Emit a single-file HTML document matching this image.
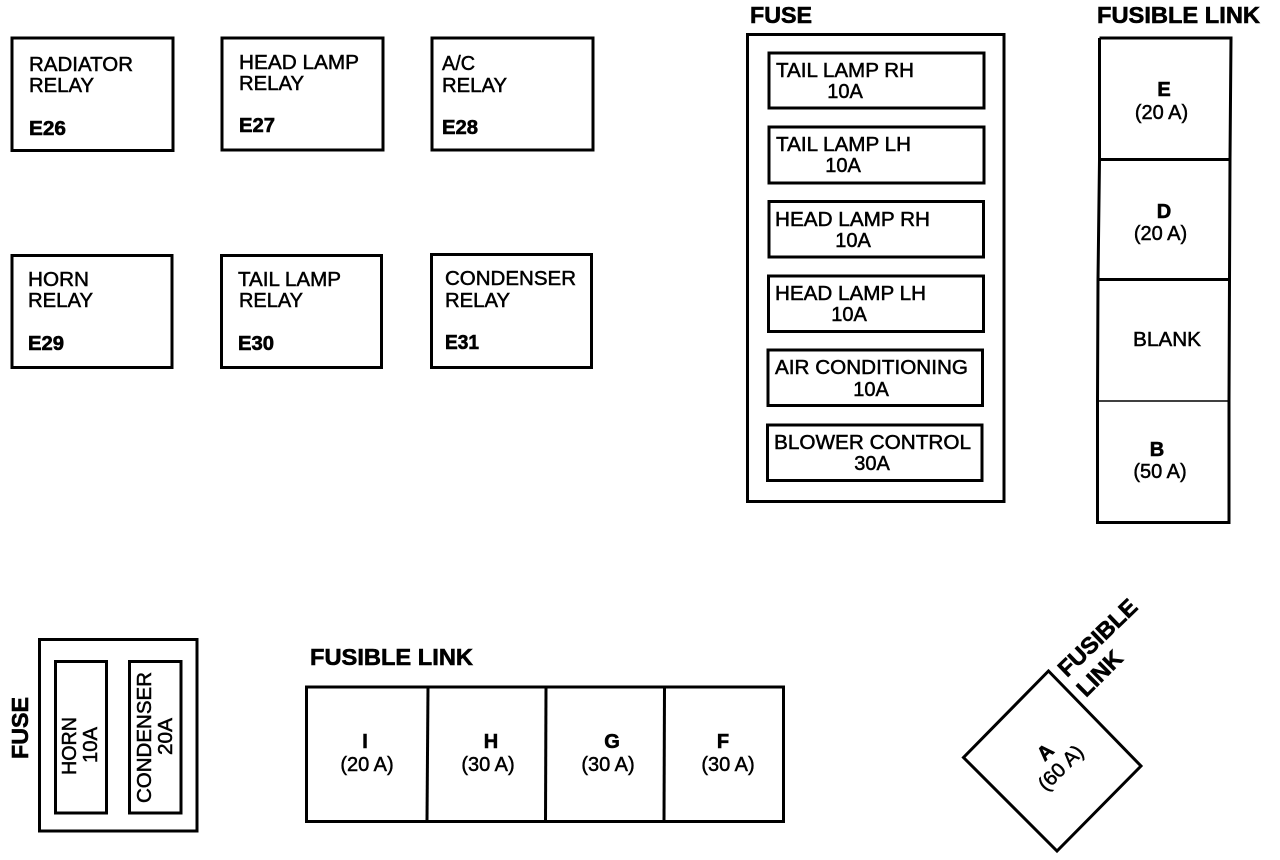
<!DOCTYPE html>
<html><head><meta charset="utf-8">
<style>
html,body{margin:0;padding:0;background:#fff;width:1280px;height:860px;overflow:hidden}
svg{display:block}
text{font-family:"Liberation Sans",sans-serif;fill:#000;font-size:20px;stroke:#000;stroke-width:.5px}
.b{font-weight:bold;stroke-width:.6px}
.h{font-weight:bold;font-size:23px;stroke-width:.6px}
.c{text-anchor:middle}
rect,polygon,line,polyline{fill:none;stroke:#000}
</style></head><body>
<svg width="1280" height="860" viewBox="0 0 1280 860" xmlns="http://www.w3.org/2000/svg">
<rect width="1280" height="860" style="fill:#fff;stroke:none"/>
<g style="stroke-width:3px">
<rect x="12" y="38" width="161" height="112.5"/>
<rect x="222" y="38" width="161" height="112"/>
<rect x="432" y="38" width="161" height="112"/>
<rect x="12" y="255.500" width="160" height="112"/>
<rect x="221.500" y="255.500" width="160" height="112"/>
<rect x="431.500" y="254.500" width="160" height="113"/>
<rect x="747.500" y="34.500" width="256.500" height="467"/>
<rect x="769" y="53" width="215" height="55"/>
<rect x="769" y="127" width="215" height="56"/>
<rect x="769" y="201.500" width="214.500" height="55.500"/>
<rect x="768.500" y="276" width="215" height="55.500"/>
<rect x="768" y="350" width="214.500" height="55.500"/>
<rect x="767.500" y="425" width="214.500" height="55.500"/>
<rect x="39.500" y="639.500" width="157.500" height="191.500"/>
<rect x="55.500" y="661.500" width="51" height="151.500"/>
<rect x="129.500" y="661.500" width="51.500" height="151.500"/>
<rect x="306.500" y="687" width="477" height="134.500"/>
<line x1="428" y1="687" x2="427" y2="821"/>
<line x1="546" y1="687" x2="545.500" y2="821"/>
<line x1="664.500" y1="687" x2="664" y2="821"/>
<polygon points="1048.500,671 1141,766 1057,851 963.500,757.500"/>
<polyline points="1099.500,38 1231,38 1230,160 1229.500,280 1229,400 1229,522.500 1097.500,522.500 1097.500,400 1098,280 1099.500,160 1099.500,38"/>
<line x1="1099.500" y1="159.500" x2="1230" y2="159.500"/>
<line x1="1098" y1="279.500" x2="1229.500" y2="279.500"/>
</g>
<line x1="1098" y1="401" x2="1229" y2="401" style="stroke-width:1.5px"/>

<text x="29" y="71" textLength="104" lengthAdjust="spacingAndGlyphs">RADIATOR</text>
<text x="29" y="92" textLength="65" lengthAdjust="spacingAndGlyphs">RELAY</text>
<text x="29" y="135" class="b" textLength="37" lengthAdjust="spacingAndGlyphs">E26</text>
<text x="239" y="69" textLength="120" lengthAdjust="spacingAndGlyphs">HEAD LAMP</text>
<text x="239" y="90" textLength="65" lengthAdjust="spacingAndGlyphs">RELAY</text>
<text x="239" y="132" class="b" textLength="36" lengthAdjust="spacingAndGlyphs">E27</text>
<text x="442" y="70" textLength="33" lengthAdjust="spacingAndGlyphs">A/C</text>
<text x="442" y="92" textLength="65" lengthAdjust="spacingAndGlyphs">RELAY</text>
<text x="442" y="134" class="b" textLength="36" lengthAdjust="spacingAndGlyphs">E28</text>
<text x="28" y="286" textLength="61" lengthAdjust="spacingAndGlyphs">HORN</text>
<text x="28" y="307" textLength="65" lengthAdjust="spacingAndGlyphs">RELAY</text>
<text x="28" y="350" class="b" textLength="36" lengthAdjust="spacingAndGlyphs">E29</text>
<text x="238" y="286" textLength="103" lengthAdjust="spacingAndGlyphs">TAIL LAMP</text>
<text x="239" y="307" textLength="64" lengthAdjust="spacingAndGlyphs">RELAY</text>
<text x="238" y="350" class="b" textLength="36" lengthAdjust="spacingAndGlyphs">E30</text>
<text x="445" y="285" textLength="131" lengthAdjust="spacingAndGlyphs">CONDENSER</text>
<text x="445" y="307" textLength="65" lengthAdjust="spacingAndGlyphs">RELAY</text>
<text x="445" y="349" class="b" textLength="34" lengthAdjust="spacingAndGlyphs">E31</text>

<text x="750" y="23" class="h" textLength="62" lengthAdjust="spacingAndGlyphs">FUSE</text>
<text x="1097" y="23" class="h" textLength="163" lengthAdjust="spacingAndGlyphs">FUSIBLE LINK</text>
<text x="776" y="77" textLength="138" lengthAdjust="spacingAndGlyphs">TAIL LAMP RH</text>
<text x="845" y="98" class="c">10A</text>
<text x="776" y="151" textLength="135" lengthAdjust="spacingAndGlyphs">TAIL LAMP LH</text>
<text x="843" y="172" class="c">10A</text>
<text x="775" y="226" textLength="155" lengthAdjust="spacingAndGlyphs">HEAD LAMP RH</text>
<text x="853" y="247" class="c">10A</text>
<text x="775" y="300" textLength="151" lengthAdjust="spacingAndGlyphs">HEAD LAMP LH</text>
<text x="849" y="321" class="c">10A</text>
<text x="775" y="374" textLength="193" lengthAdjust="spacingAndGlyphs">AIR CONDITIONING</text>
<text x="871" y="396" class="c">10A</text>
<text x="774" y="449" textLength="197" lengthAdjust="spacingAndGlyphs">BLOWER CONTROL</text>
<text x="872" y="470" class="c">30A</text>

<text x="1164" y="96" class="b c">E</text>
<text x="1161.500" y="119" class="c">(20 A)</text>
<text x="1164" y="218" class="b c">D</text>
<text x="1160.500" y="240" class="c">(20 A)</text>
<text x="1167" y="346" class="c" textLength="68" lengthAdjust="spacingAndGlyphs">BLANK</text>
<text x="1157" y="456" class="b c">B</text>
<text x="1160" y="478" class="c">(50 A)</text>

<text x="310" y="665" class="h" textLength="163" lengthAdjust="spacingAndGlyphs">FUSIBLE LINK</text>
<text x="365" y="748" class="b c">I</text>
<text x="367" y="771" class="c">(20 A)</text>
<text x="491" y="748" class="b c">H</text>
<text x="488" y="771" class="c">(30 A)</text>
<text x="612" y="748" class="b c">G</text>
<text x="608" y="771" class="c">(30 A)</text>
<text x="723" y="748" class="b c">F</text>
<text x="728" y="771" class="c">(30 A)</text>

<text transform="translate(28,759) rotate(-90)" class="h" textLength="62" lengthAdjust="spacingAndGlyphs">FUSE</text>
<text transform="translate(76,775) rotate(-90)" textLength="58" lengthAdjust="spacingAndGlyphs">HORN</text>
<text transform="translate(97,763) rotate(-90)" textLength="36" lengthAdjust="spacingAndGlyphs">10A</text>
<text transform="translate(151,803) rotate(-90)" textLength="131" lengthAdjust="spacingAndGlyphs">CONDENSER</text>
<text transform="translate(172,755) rotate(-90)" textLength="37" lengthAdjust="spacingAndGlyphs">20A</text>

<text transform="translate(1067,678) rotate(-44)" class="h" textLength="100" lengthAdjust="spacingAndGlyphs">FUSIBLE</text>
<text transform="translate(1086,698) rotate(-45)" class="h" textLength="54" lengthAdjust="spacingAndGlyphs">LINK</text>
<text transform="translate(1050,757) rotate(-44)" class="b c">A</text>
<text transform="translate(1046,792) rotate(-45)" textLength="55" lengthAdjust="spacingAndGlyphs">(60 A)</text>
</svg>
</body></html>
